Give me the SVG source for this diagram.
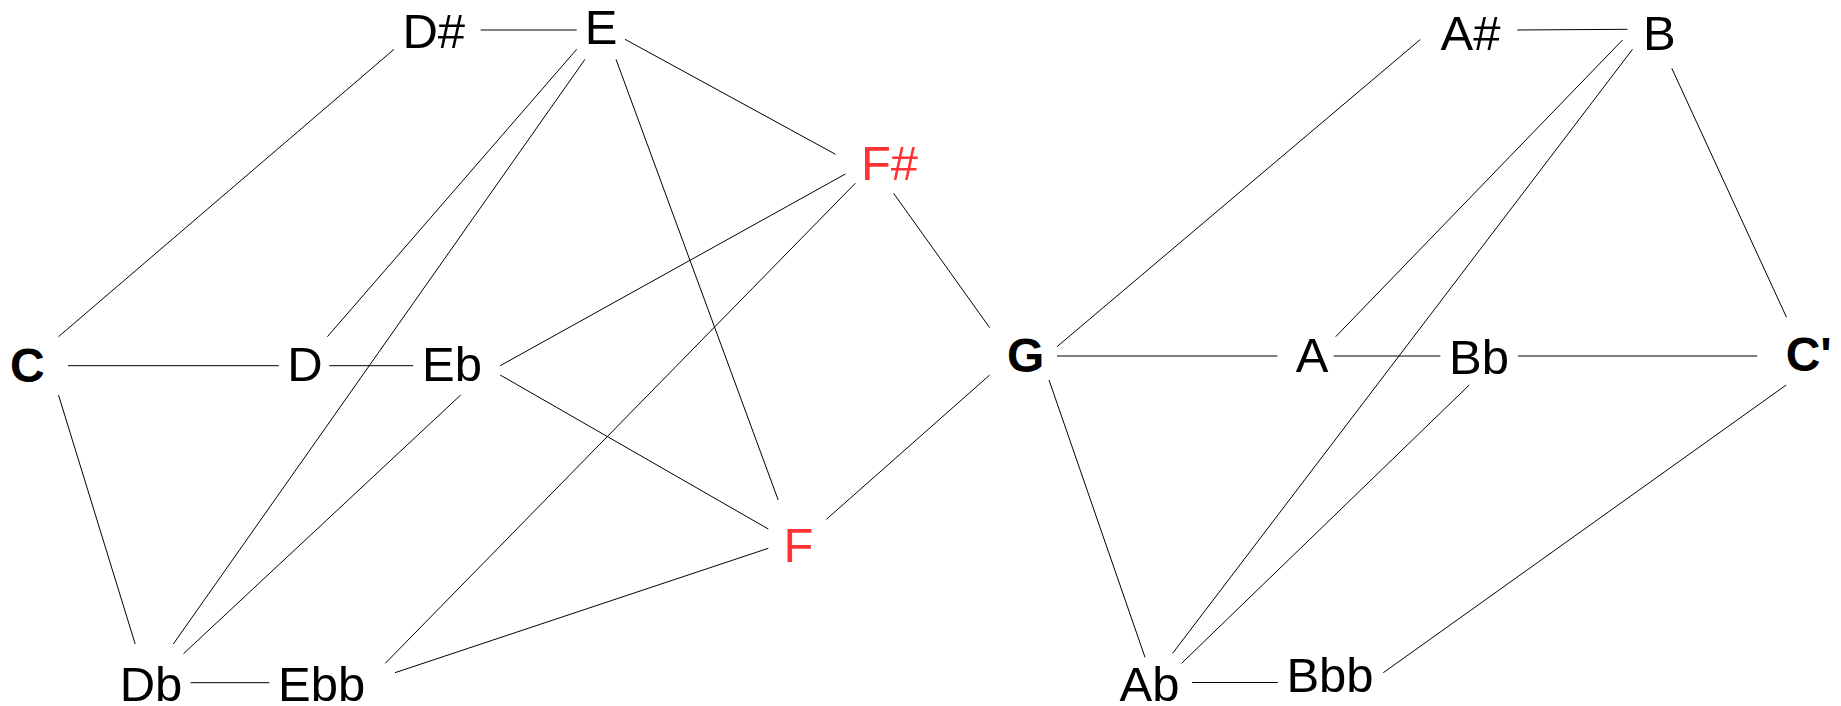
<svg xmlns="http://www.w3.org/2000/svg" width="1841" height="706" viewBox="0 0 1841 706">
<style>
text{font-family:"Liberation Sans",Arial,sans-serif;font-size:49px;fill:#000;text-anchor:middle}
.b{font-weight:bold;font-size:48px}
.r{fill:#ff3333}
#edges line{stroke:#000;stroke-width:1;fill:none}
</style>
<rect width="1841" height="706" fill="#fff"/>
<g id="edges">
<line x1="68" y1="365.7" x2="278.8" y2="365.7"/>
<line x1="329.4" y1="365.7" x2="413.2" y2="365.7"/>
<line x1="58.5" y1="336.7" x2="394" y2="49.3"/>
<line x1="480.7" y1="30" x2="576.7" y2="30"/>
<line x1="576.7" y1="49.3" x2="327.4" y2="336.7"/>
<line x1="585" y1="59.3" x2="173.3" y2="644"/>
<line x1="616" y1="59.3" x2="778.2" y2="500"/>
<line x1="625" y1="39.3" x2="835.5" y2="154.3"/>
<line x1="845.4" y1="174" x2="500.2" y2="365.7"/>
<line x1="855.3" y1="183.3" x2="385.3" y2="663.3"/>
<line x1="893.6" y1="193.3" x2="989.7" y2="327.7"/>
<line x1="500.2" y1="375" x2="768.3" y2="529"/>
<line x1="460.7" y1="395" x2="183.5" y2="653.7"/>
<line x1="58.5" y1="395" x2="135.2" y2="644"/>
<line x1="190.7" y1="682.7" x2="269.3" y2="682.7"/>
<line x1="395" y1="672.7" x2="768.3" y2="548.3"/>
<line x1="826.4" y1="519.3" x2="989.7" y2="375"/>
<line x1="1057" y1="356" x2="1277.5" y2="356"/>
<line x1="1333.7" y1="356" x2="1440.4" y2="356"/>
<line x1="1518" y1="356" x2="1757.3" y2="356"/>
<line x1="1057" y1="346.7" x2="1420.3" y2="39.5"/>
<line x1="1517.3" y1="30" x2="1627.3" y2="29.3"/>
<line x1="1622.5" y1="40" x2="1335.7" y2="336.7"/>
<line x1="1632.5" y1="49.3" x2="1172.6" y2="653.3"/>
<line x1="1671.8" y1="68.3" x2="1786.5" y2="317.3"/>
<line x1="1049" y1="380" x2="1145" y2="657.3"/>
<line x1="1469.3" y1="385" x2="1181.6" y2="663.3"/>
<line x1="1192" y1="682.5" x2="1277.7" y2="682.5"/>
<line x1="1786.2" y1="385" x2="1383.3" y2="672.7"/>
</g>
<g id="node-C"><text class="b" x="27.3" y="381.7">C</text></g>
<g id="node-Db"><text x="151" y="700.7">Db</text></g>
<g id="node-D"><text x="305" y="380.7">D</text></g>
<g id="node-Ebb"><text x="321.7" y="700.7">Ebb</text></g>
<g id="node-Eb"><text x="452" y="380.7">Eb</text></g>
<g id="node-Dsharp"><text x="433.7" y="48.3">D#</text></g>
<g id="node-E"><text x="601.2" y="44">E</text></g>
<g id="node-F"><text class="r" x="798.5" y="561.7">F</text></g>
<g id="node-Fsharp"><text class="r" x="889.5" y="180">F#</text></g>
<g id="node-G"><text class="b" x="1025.6" y="372.3">G</text></g>
<g id="node-Ab"><text x="1149.5" y="700.7">Ab</text></g>
<g id="node-A"><text x="1312" y="371.7">A</text></g>
<g id="node-Bbb"><text x="1330" y="692.3">Bbb</text></g>
<g id="node-Bb"><text x="1479" y="374">Bb</text></g>
<g id="node-Asharp"><text x="1470.5" y="50">A#</text></g>
<g id="node-B"><text x="1659.3" y="50">B</text></g>
<g id="node-Cprime"><text class="b" x="1808.7" y="370.7">C'</text></g>
</svg>
